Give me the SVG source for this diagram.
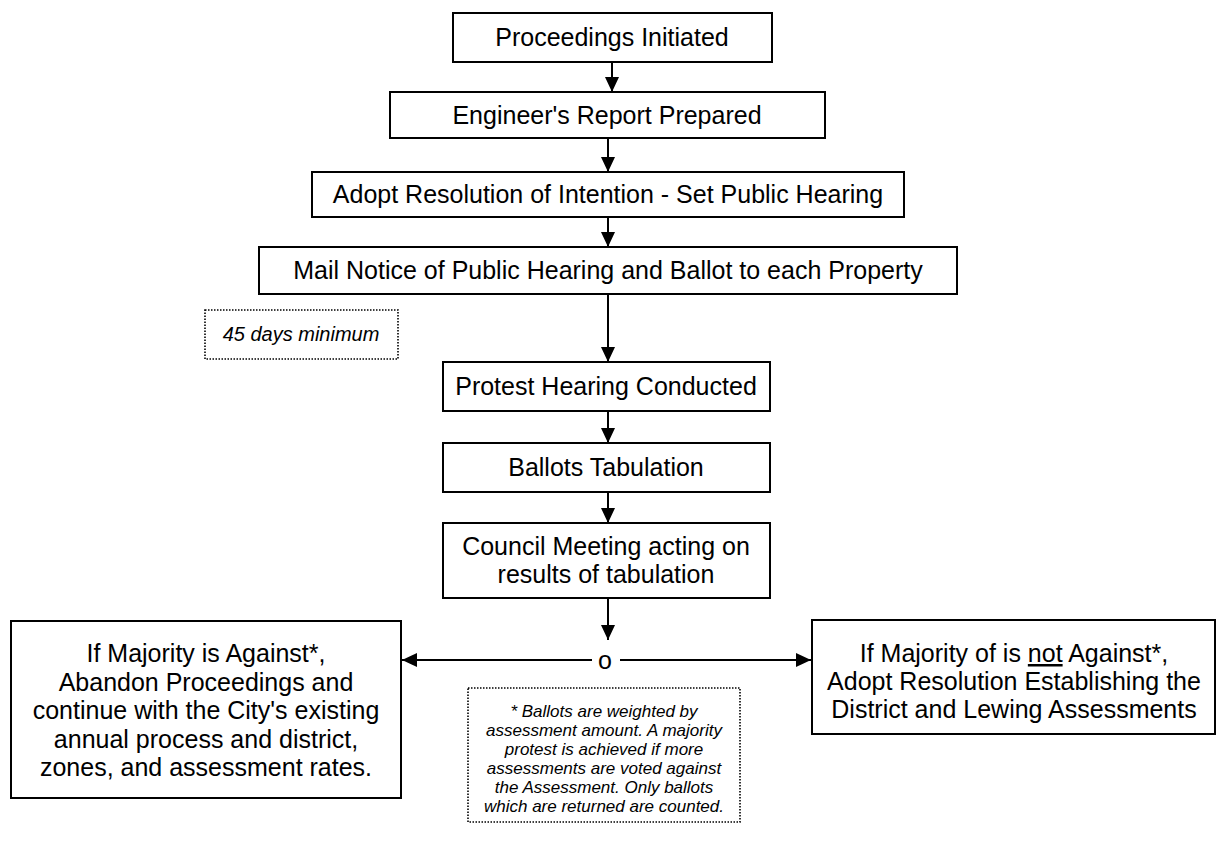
<svg xmlns="http://www.w3.org/2000/svg" width="1217" height="844" viewBox="0 0 1217 844">
<style>
.box{fill:#fff;stroke:#000;stroke-width:2}
.dot{fill:#fff;stroke:#000;stroke-width:1.6;stroke-dasharray:1.5 1.5}
.t{font-family:"Liberation Sans",Arial,sans-serif;font-size:25px;fill:#000;text-anchor:middle}
.n{font-family:"Liberation Sans",Arial,sans-serif;font-size:17px;font-style:italic;fill:#000;text-anchor:middle}
.c{stroke:#000;stroke-width:2;fill:none}
</style>
<defs>
<marker id="ah" markerWidth="15" markerHeight="14" refX="15" refY="7" orient="auto" markerUnits="userSpaceOnUse">
<path d="M0,0 L15,7 L0,14 Z" fill="#000"/>
</marker>
</defs>
<g id="connectors">
<line class="c" x1="612" y1="62" x2="612" y2="92" marker-end="url(#ah)"/>
<line class="c" x1="608" y1="138" x2="608" y2="172" marker-end="url(#ah)"/>
<line class="c" x1="608" y1="217" x2="608" y2="247" marker-end="url(#ah)"/>
<line class="c" x1="608" y1="294" x2="608" y2="362" marker-end="url(#ah)"/>
<line class="c" x1="608" y1="411" x2="608" y2="443" marker-end="url(#ah)"/>
<line class="c" x1="608" y1="492" x2="608" y2="523" marker-end="url(#ah)"/>
<line class="c" x1="608" y1="598" x2="608" y2="640" marker-end="url(#ah)"/>
<line class="c" x1="592" y1="660" x2="402" y2="660" marker-end="url(#ah)"/>
<line class="c" x1="620" y1="660" x2="811" y2="660" marker-end="url(#ah)"/>
<text class="t" x="605" y="669">o</text>
</g>
<g id="n1"><rect class="box" x="453" y="13" width="319" height="49"/><text class="t" x="612" y="46">Proceedings Initiated</text></g>
<g id="n2"><rect class="box" x="390" y="92" width="435" height="46"/><text class="t" x="607" y="124">Engineer's Report Prepared</text></g>
<g id="n3"><rect class="box" x="312" y="172" width="592" height="45"/><text class="t" x="608" y="203">Adopt Resolution of Intention - Set Public Hearing</text></g>
<g id="n4"><rect class="box" x="259" y="247" width="698" height="47"/><text class="t" x="608" y="279">Mail Notice of Public Hearing  and Ballot to each Property</text></g>
<g id="n45"><rect class="dot" x="205" y="310" width="193" height="49"/><text class="n" x="301" y="341" style="font-size:20px">45 days minimum</text></g>
<g id="n5"><rect class="box" x="443" y="362" width="327" height="49"/><text class="t" x="606" y="395">Protest Hearing Conducted</text></g>
<g id="n6"><rect class="box" x="443" y="443" width="327" height="49"/><text class="t" x="606" y="476">Ballots Tabulation</text></g>
<g id="n7"><rect class="box" x="443" y="523" width="327" height="75"/><text class="t" x="606" y="555">Council Meeting acting on</text><text class="t" x="606" y="583">results of tabulation</text></g>
<g id="nLeft"><rect class="box" x="11" y="621" width="390" height="177"/>
<text class="t" x="206" y="662">If Majority is Against*,</text>
<text class="t" x="206" y="690.5">Abandon Proceedings and</text>
<text class="t" x="206" y="719">continue with the City's existing</text>
<text class="t" x="206" y="747.5">annual process and district,</text>
<text class="t" x="206" y="776">zones, and assessment rates.</text>
</g>
<g id="nRight"><rect class="box" x="812" y="620" width="403" height="114"/>
<text class="t" x="1014" y="662">If Majority of is <tspan text-decoration="underline">not</tspan> Against*,</text>
<text class="t" x="1014" y="690">Adopt Resolution Establishing the</text>
<text class="t" x="1014" y="718">District and Lewing Assessments</text>
</g>
<g id="nNote"><rect class="dot" x="468" y="688" width="272" height="134"/>
<text class="n" x="604" y="717">*  Ballots are  weighted by</text>
<text class="n" x="604" y="736">assessment amount.  A majority</text>
<text class="n" x="604" y="755">protest is achieved if more</text>
<text class="n" x="604" y="774">assessments are voted against</text>
<text class="n" x="604" y="793">the Assessment.  Only ballots</text>
<text class="n" x="604" y="812">which are  returned are counted.</text>
</g>
</svg>
